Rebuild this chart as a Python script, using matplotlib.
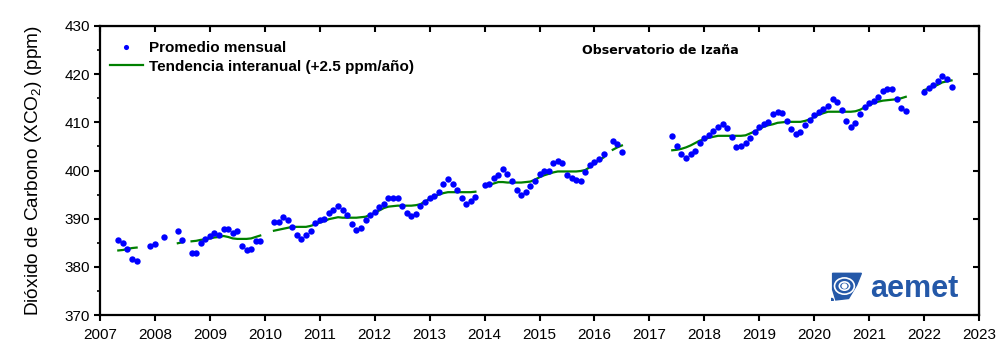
import numpy as np
import matplotlib.pyplot as plt
from matplotlib.patches import Polygon, Ellipse, Circle

N = None

# first month of the series: May 2007 (one row per year below)
start_year = 2007
start_month = 5

monthly_ppm = [
    385.5, 384.9, 383.6, 381.6, 381.3, N, N, 384.3,                              # 2007 (May-Dec)
    384.7, N, 386.1, N, N, 387.4, 385.5, N, 382.8, 382.8, 385.0, 385.7,          # 2008
    386.5, 387.0, 386.7, 387.8, 387.8, 387.0, 387.4, 384.3, 383.4, 383.8, 385.3, 385.3,  # 2009
    N, N, 389.4, 389.4, 390.3, 389.7, 388.2, 386.7, 385.7, 386.7, 387.4, 389.2,  # 2010
    389.7, 389.9, 391.1, 391.7, 392.6, 391.9, 390.7, 388.8, 387.6, 388.0, 389.7, 390.7,  # 2011
    391.3, 392.4, 393.0, 394.2, 394.2, 394.2, 392.6, 391.1, 390.5, 390.9, 392.6, 393.5,  # 2012
    394.2, 394.8, 395.5, 397.1, 398.2, 397.3, 395.9, 394.2, 393.0, 393.6, 394.4, N,      # 2013
    396.9, 397.3, 398.4, 399.1, 400.3, 399.2, 397.8, 395.9, 394.9, 395.5, 396.7, 397.8,  # 2014
    399.2, 399.8, 400.0, 401.5, 401.9, 401.5, 399.0, 398.4, 398.0, 397.8, 399.6, 401.1,  # 2015
    401.7, 402.3, 403.4, N, 406.1, 405.4, 403.8, N, N, N, N, N,                  # 2016
    N, N, N, N, N, 407.1, 405.0, 403.4, 402.5, 403.4, 404.0, 405.7,              # 2017
    406.7, 407.3, 408.1, 409.0, 409.6, 408.8, 406.9, 404.8, 405.0, 405.7, 406.7, 407.9,  # 2018
    409.0, 409.6, 410.0, 411.7, 412.1, 411.9, 410.2, 408.6, 407.5, 407.9, 409.4, 410.4,  # 2019
    411.5, 412.1, 412.7, 413.3, 414.8, 414.2, 412.5, 410.2, 409.0, 409.8, 411.7, 413.1,  # 2020
    414.0, 414.4, 415.2, 416.5, 416.9, 416.9, 414.8, 412.9, 412.3, N, N, N,      # 2021
    416.2, 417.1, 417.7, 418.5, 419.6, 419.0, 417.3,                             # 2022 (Jan-Jul)
]

trend_ppm = [
    383.4, 383.5, 383.7, 383.9, 384.0, N, N, 384.3,                              # 2007
    384.7, N, N, N, N, 384.9, 385.1, N, 385.3, 385.4, 385.6, 385.7,              # 2008
    385.9, 386.1, 386.2, 386.4, 386.2, 385.9, 385.8, 385.8, 385.8, 385.9, 386.2, 386.5,  # 2009
    N, N, 387.5, 387.7, 387.9, 388.1, 388.3, 388.3, 388.3, 388.3, 388.5, 388.8,  # 2010
    389.2, 389.5, 389.9, 390.1, 390.3, 390.2, 390.2, 390.2, 390.2, 390.3, 390.4, 390.8,  # 2011
    391.2, 391.7, 392.2, 392.5, 392.6, 392.7, 392.7, 392.7, 392.7, 392.8, 393.0, 393.6,  # 2012
    394.1, 394.6, 395.0, 395.3, 395.5, 395.5, 395.5, 395.5, 395.5, 395.5, 395.6, N,      # 2013
    396.6, 397.0, 397.3, 397.6, 397.6, 397.5, 397.5, 397.5, 397.5, 397.6, 397.7, 398.1,  # 2014
    398.6, 399.0, 399.3, 399.6, 399.8, 399.8, 399.8, 399.8, 399.8, 399.9, 400.1, 400.7,  # 2015
    401.5, 402.1, 402.7, N, 404.3, 404.8, 405.2, N, N, N, N, N,                  # 2016
    N, N, N, N, N, 404.2, 404.3, 404.5, 404.8, 405.2, 405.7, 406.2,              # 2017
    406.5, 406.8, 407.0, 407.2, 407.2, 407.2, 407.2, 407.2, 407.2, 407.3, 407.7, 408.1,  # 2018
    408.6, 409.1, 409.4, 409.6, 409.9, 410.0, 410.1, 410.1, 410.1, 410.1, 410.3, 410.6,  # 2019
    411.1, 411.6, 411.9, 412.2, 412.2, 412.2, 412.2, 412.2, 412.2, 412.3, 412.6, 413.1,  # 2020
    413.6, 414.0, 414.3, 414.5, 414.6, 414.7, 414.8, 415.0, 415.3, N, N, N,      # 2021
    416.7, 417.0, 417.4, 417.8, 418.3, 418.5, 418.7,                             # 2022
]

year_ticks = list(range(2007, 2024))
ppm_ticks = [370, 380, 390, 400, 410, 420, 430]

label_monthly = "Promedio mensual"
label_trend = "Tendencia interanual (+2.5 ppm/año)"
station = "Observatorio de Izaña"

plt.rcParams["font.family"] = ["Liberation Sans", "DejaVu Sans"]
plt.rcParams["mathtext.fontset"] = "custom"
plt.rcParams["mathtext.rm"] = "Liberation Sans"

monthly = np.array(monthly_ppm, dtype=float)
trend = np.array(trend_ppm, dtype=float)
x = start_year + (start_month - 1 + np.arange(len(monthly))) / 12

fig = plt.figure(figsize=(10, 3.61), dpi=100)
ax = fig.add_axes([0.100, 0.1274, 0.879, 0.8006])

ax.plot(x, monthly, "o", color="#0000ff", markersize=4.6, markeredgewidth=0,
        linestyle="none", label=label_monthly, zorder=3)
ax.plot(x, trend, "-", color="#008000", linewidth=1.6, label=label_trend, zorder=2)

ax.set_xlim(2007, 2023)
ax.set_ylim(370, 430)
ax.set_xticks(year_ticks)
ax.set_yticks(ppm_ticks)
ax.set_yticks(np.arange(375, 430, 10), minor=True)
ax.tick_params(axis="both", labelsize=11, width=1.5, length=4, direction="out")
ax.tick_params(axis="y", which="minor", width=1.2, length=2.5, direction="out")
ax.tick_params(axis="x", pad=5)
ax.tick_params(axis="y", pad=3)

for sp in ax.spines.values():
    sp.set_linewidth(1.6)

# top/right ticks point inward, left/bottom outward
ax_top = ax.secondary_xaxis("top")
ax_top.set_xticks(year_ticks)
ax_top.tick_params(direction="in", length=4, width=1.5, labeltop=False)
ax_top.set_xticklabels([])
ax_right = ax.secondary_yaxis("right")
ax_right.set_yticks(ppm_ticks)
ax_right.tick_params(direction="in", length=4, width=1.5)
ax_right.set_yticklabels([])

ax.set_ylabel("Dióxido de Carbono (XCO$_2$) (ppm)", fontsize=13.7, labelpad=15)

ax.legend(loc="upper left", bbox_to_anchor=(0.011, 0.948), frameon=False,
          prop={"weight": "bold", "size": 11},
          handlelength=2.2, handletextpad=0.35, labelspacing=0.3,
          borderpad=0, borderaxespad=0, markerscale=0.8)

ax.text(0.637, 0.915, station, transform=ax.transAxes, ha="center", va="center",
        fontsize=9.1, fontweight="bold", family="DejaVu Sans")

# aemet logo
blue = "#2458a8"
ax.text(0.876, 0.062, "aemet", transform=ax.transAxes, ha="left", va="baseline",
        fontsize=22, fontweight="bold", color=blue)
icon = fig.add_axes([0.831, 0.165, 0.032, 0.082])
icon.set_xlim(0, 1)
icon.set_ylim(0, 1)
icon.axis("off")
icon.add_patch(Polygon([[0.05, 0.95], [0.95, 0.95], [0.80, 0.55], [0.55, 0.10],
                        [0.15, 0.05], [0.05, 0.40]], closed=True, color=blue))
icon.add_patch(Ellipse((0.42, 0.52), 0.62, 0.55, fill=False, ec="white", lw=1.2))
icon.add_patch(Ellipse((0.42, 0.52), 0.32, 0.28, fill=False, ec="white", lw=1.2))
icon.add_patch(Circle((0.42, 0.52), 0.07, color="white"))
icon.add_patch(Circle((0.02, 0.05), 0.05, color=blue))

fig.savefig("out.png", dpi=100)
plt.close(fig)
